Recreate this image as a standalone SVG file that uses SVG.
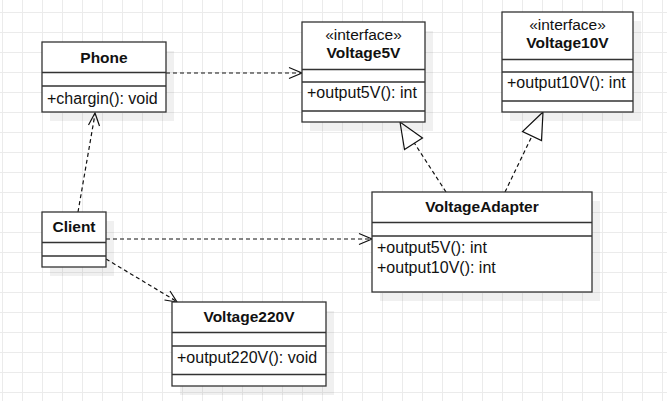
<svg xmlns="http://www.w3.org/2000/svg" width="667" height="401" viewBox="0 0 667 401">
<style>
.box{fill:#fff;stroke:#333;stroke-width:1.3}
.sep{stroke:#333;stroke-width:1.3;fill:none}
.shadow{fill:#000;fill-opacity:0.06}
.t{font-family:"Liberation Sans",Arial,sans-serif;font-size:16px;fill:#111}
.b{font-family:"Liberation Sans",Arial,sans-serif;font-size:15.5px;font-weight:bold;fill:#111;text-anchor:middle}
.s{font-family:"Liberation Sans",Arial,sans-serif;font-size:15.5px;fill:#111;text-anchor:middle}
.dash{fill:none;stroke:#111;stroke-width:1.2;stroke-dasharray:4 3}
.head{fill:none;stroke:#111;stroke-width:1.2}
.tri{fill:#fff;stroke:#111;stroke-width:1.2}
</style>
<defs>
<pattern id="grid" x="2" y="12" width="20" height="20" patternUnits="userSpaceOnUse">
<path d="M0.5 0 V20 M0 0.5 H20" stroke="#ebebeb" stroke-width="1" fill="none"/>
</pattern>
</defs>
<rect width="667" height="401" fill="#fff"/>
<rect width="667" height="401" fill="url(#grid)"/>

<g id="connectors">
<path class="dash" d="M166 73 H301"/>
<path class="head" d="M289 67.5 L302 73 L289 78.5"/>
<path class="dash" d="M78 212 L95 114"/>
<path class="head" d="M88.5 125 L95 113 L99.5 126"/>
<path class="dash" d="M106 239 H371"/>
<path class="head" d="M359 233.5 L372 239 L359 244.5"/>
<path class="dash" d="M106 259 L176 301"/>
<path class="head" d="M164.5 300 L177 302 L170 291"/>
<path class="dash" d="M446 192 L413 141"/>
<path class="tri" d="M400 122 L404.5 149.5 L422.5 138 Z"/>
<path class="dash" d="M505 192 L532 136"/>
<path class="tri" d="M543 112 L522.5 131.5 L541.5 140.5 Z"/>
</g>

<g id="phone">
<rect class="shadow" x="50" y="51" width="124" height="70"/>
<rect class="box" x="42" y="42" width="124" height="70"/>
<path class="sep" d="M42 72.5 H166 M42 86 H166"/>
<text class="b" x="104" y="63">Phone</text>
<text class="t" x="47" y="104">+chargin(): void</text>
</g>

<g id="voltage5v">
<rect class="shadow" x="310" y="31" width="123" height="100"/>
<rect class="box" x="302" y="22" width="123" height="100"/>
<path class="sep" d="M302 69.5 H425 M302 82 H425 M302 111 H425"/>
<text class="s" x="363.5" y="40">«interface»</text>
<text class="b" x="363.5" y="58">Voltage5V</text>
<text class="t" x="307" y="98">+output5V(): int</text>
</g>

<g id="voltage10v">
<rect class="shadow" x="510" y="21" width="131" height="100"/>
<rect class="box" x="502" y="12" width="131" height="100"/>
<path class="sep" d="M502 59.5 H633 M502 72 H633 M502 101 H633"/>
<text class="s" x="567.5" y="30">«interface»</text>
<text class="b" x="567.5" y="48">Voltage10V</text>
<text class="t" x="507" y="88">+output10V(): int</text>
</g>

<g id="voltageadapter">
<rect class="shadow" x="380" y="201" width="220" height="100"/>
<rect class="box" x="372" y="192" width="220" height="100"/>
<path class="sep" d="M372 222.5 H592 M372 236 H592"/>
<text class="b" x="482" y="212">VoltageAdapter</text>
<text class="t" x="377" y="253">+output5V(): int</text>
<text class="t" x="377" y="272.5">+output10V(): int</text>
</g>

<g id="client">
<rect class="shadow" x="50" y="221" width="64" height="55"/>
<rect class="box" x="42" y="212" width="64" height="55"/>
<path class="sep" d="M42 242.5 H106 M42 256 H106"/>
<text class="b" x="74" y="232">Client</text>
</g>

<g id="voltage220v">
<rect class="shadow" x="180" y="311" width="154" height="84"/>
<rect class="box" x="172" y="302" width="154" height="84"/>
<path class="sep" d="M172 332.5 H326 M172 346 H326 M172 374.5 H326"/>
<text class="b" x="249" y="322">Voltage220V</text>
<text class="t" x="177" y="363">+output220V(): void</text>
</g>
</svg>
